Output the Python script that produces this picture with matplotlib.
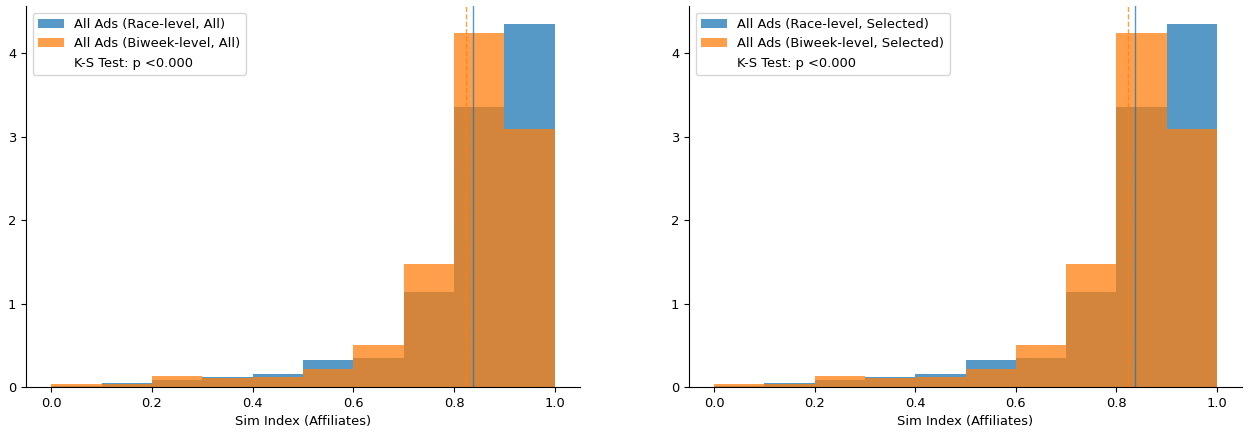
import matplotlib
matplotlib.use("Agg")
import matplotlib.pyplot as plt
import numpy as np

# density per bin of the affiliate sim index (10 equal bins on [0, 1])
bin_edges = np.linspace(0.0, 1.0, 11)
race_density = [0.015, 0.052, 0.088, 0.120, 0.160, 0.328, 0.352, 1.141, 3.351, 4.348]
biweek_density = [0.040, 0.040, 0.136, 0.112, 0.120, 0.216, 0.504, 1.477, 4.240, 3.087]

# summary markers (solid = race-level, dashed = biweek-level)
race_center = 0.838
biweek_center = 0.823

panel_labels = ["All", "Selected"]
ks_label = "K-S Test: p <0.000"
x_label = "Sim Index (Affiliates)"

plt.rcParams["font.size"] = 9.4

fig = plt.figure(figsize=(12.48, 4.32), dpi=100)
W, H = 1248, 432
panel_boxes = [(26, 6, 554, 381), (689, 6, 553, 381)]

for (x0, y0, w, h), group in zip(panel_boxes, panel_labels):
    ax = fig.add_axes([x0 / W, 1 - (y0 + h) / H, w / W, h / H])
    ax.hist(bin_edges[:-1], bins=bin_edges, weights=race_density,
            color="C0", alpha=0.75, label=f"All Ads (Race-level, {group})")
    ax.hist(bin_edges[:-1], bins=bin_edges, weights=biweek_density,
            color="C1", alpha=0.75, label=f"All Ads (Biweek-level, {group})")
    ax.axvline(race_center, color="C0", lw=1, alpha=0.75)
    ax.axvline(biweek_center, color="C1", lw=1, ls="--", alpha=0.75)
    ax.plot([], [], " ", label=ks_label)

    ax.set_xlabel(x_label)
    ax.spines["top"].set_visible(False)
    ax.spines["right"].set_visible(False)
    ax.legend(loc="upper left")

plt.savefig("out.png", dpi=100)
